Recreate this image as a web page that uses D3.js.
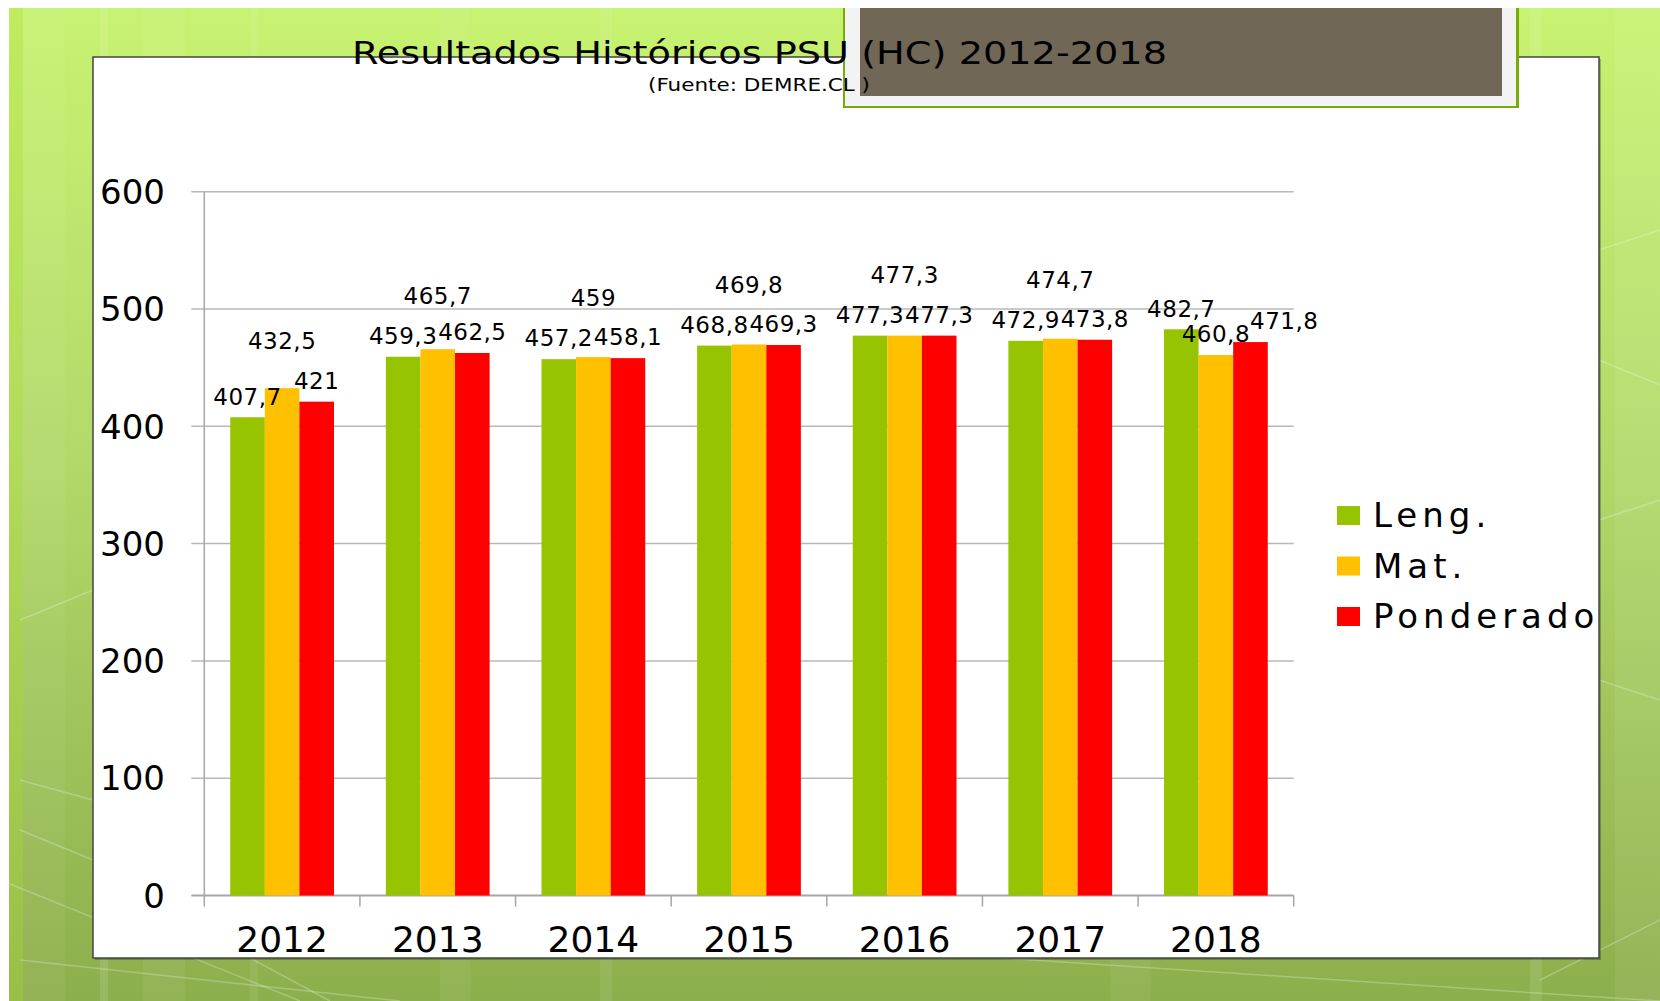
<!DOCTYPE html>
<html>
<head>
<meta charset="utf-8">
<script src="https://cdn.jsdelivr.net/npm/d3@7"></script>
<style>
	body { margin: 0; background: #fff; }
	svg { display: block; }
	text { font-family: "DejaVu Sans", sans-serif; fill: #000; }
</style>
</head>
<body>
<div class="box"></div>
<script>
var years = ['2012', '2013', '2014', '2015', '2016', '2017', '2018'];
var series = ['Leng.', 'Mat.', 'Ponderado'];
var leng = [407.7, 459.3, 457.2, 468.8, 477.3, 472.9, 482.7];
var mat = [432.5, 465.7, 459, 469.8, 477.3, 474.7, 460.8];
var ponderado = [421, 462.5, 458.1, 469.3, 477.3, 473.8, 471.8];
var yTicks = [0, 100, 200, 300, 400, 500, 600];
var colors = ['#97c400', '#ffc000', '#ff0000'];

var title = 'Resultados Históricos PSU (HC) 2012-2018';
var subtitle = '(Fuente: DEMRE.CL )';

var width = 1660, height = 1001;

var svg = d3.select('.box')
	.append('svg')
	.attr('width', width)
	.attr('height', height);

// slide background
var defs = svg.append('defs');
var grad = defs.append('linearGradient')
	.attr('id', 'bg')
	.attr('x1', 0).attr('y1', 0).attr('x2', 0).attr('y2', 1);
grad.append('stop').attr('offset', '0%').attr('stop-color', '#c8f271');
grad.append('stop').attr('offset', '45%').attr('stop-color', '#b3d96a');
grad.append('stop').attr('offset', '100%').attr('stop-color', '#8dae4c');

defs.append('clipPath')
	.attr('id', 'panelClip')
	.append('rect')
		.attr('x', 93).attr('y', 0)
		.attr('width', 1506).attr('height', 958);

svg.append('rect')
	.attr('x', 9).attr('y', 8)
	.attr('width', width - 9).attr('height', height - 8)
	.attr('fill', 'url(#bg)');

var stripes = [[9, 14, 0.35, '#b0e040'], [23, 42, 0.05], [100, 8, 0.12], [143, 42, 0.06],
	[250, 8, 0.08], [440, 30, 0.05], [600, 12, 0.08], [1110, 40, 0.05], [1530, 12, 0.1], [1615, 45, 0.07]];
svg.selectAll('rect.stripe')
	.data(stripes)
	.enter()
	.append('rect')
		.attr('class', 'stripe')
		.attr('x', function(d) { return d[0]; })
		.attr('y', 8)
		.attr('width', function(d) { return d[1]; })
		.attr('height', height - 8)
		.attr('fill', function(d) { return d[3] || '#fff'; })
		.attr('fill-opacity', function(d) { return d[2]; });

var streaks = [[0, 880, 300, 1001], [20, 960, 400, 1001], [250, 958, 330, 1001], [1000, 958, 1660, 1001],
	[1540, 980, 1660, 920], [1599, 250, 1660, 230], [1599, 360, 1660, 385], [1599, 520, 1660, 500],
	[20, 620, 93, 590], [20, 780, 93, 800], [20, 830, 93, 860], [1599, 680, 1660, 700]];
svg.selectAll('line.streak')
	.data(streaks)
	.enter()
	.append('line')
		.attr('x1', function(d) { return d[0]; })
		.attr('y1', function(d) { return d[1]; })
		.attr('x2', function(d) { return d[2]; })
		.attr('y2', function(d) { return d[3]; })
		.attr('stroke', '#fff')
		.attr('stroke-opacity', 0.25)
		.attr('stroke-width', 1.5);

// white chart panel
svg.append('rect')
	.attr('x', 95).attr('y', 59)
	.attr('width', 1506).attr('height', 901)
	.attr('fill', '#000')
	.attr('fill-opacity', 0.25);
svg.append('rect')
	.attr('x', 93).attr('y', 57)
	.attr('width', 1506).attr('height', 901)
	.attr('fill', '#fff')
	.attr('stroke', '#444')
	.attr('stroke-width', 1.5);

// picture frame placeholder at the top
svg.append('rect')
	.attr('x', 843).attr('y', 8)
	.attr('width', 676).attr('height', 100)
	.attr('fill', '#78aa08');
svg.append('rect')
	.attr('x', 845).attr('y', 8)
	.attr('width', 671).attr('height', 98)
	.attr('fill', '#f3f3f3');
svg.append('rect')
	.attr('x', 860).attr('y', 8)
	.attr('width', 642).attr('height', 88)
	.attr('fill', '#716757');

// titles
svg.append('text')
	.attr('x', 352).attr('y', 64)
	.attr('textLength', 815)
	.attr('lengthAdjust', 'spacingAndGlyphs')
	.style('font-size', '32px')
	.text(title);

svg.append('text')
	.attr('x', 648).attr('y', 91)
	.attr('textLength', 222)
	.attr('lengthAdjust', 'spacingAndGlyphs')
	.style('font-size', '17px')
	.text(subtitle);

// plot
var plotLeft = 204.3, plotRight = 1293.7, plotTop = 191.7, plotBottom = 895.5;

var x0 = d3.scaleBand()
	.domain(years)
	.range([plotLeft, plotRight])
	.paddingInner(1 / 3)
	.paddingOuter(1 / 6);

var x1 = d3.scaleBand()
	.domain(series)
	.range([0, x0.bandwidth()]);

var y = d3.scaleLinear()
	.domain([0, 600])
	.range([plotBottom, plotTop]);

var g = svg.append('g').attr('clip-path', 'url(#panelClip)');

g.selectAll('line.grid')
	.data(yTicks)
	.enter()
	.append('line')
		.attr('class', 'grid')
		.attr('x1', plotLeft - 13)
		.attr('x2', plotRight)
		.attr('y1', function(d) { return y(d); })
		.attr('y2', function(d) { return y(d); })
		.attr('stroke', function(d) { return d === 0 ? '#a6a6a6' : '#b8b8b8'; })
		.attr('stroke-width', function(d) { return d === 0 ? 2 : 1.5; });

g.append('line')
	.attr('x1', plotLeft).attr('x2', plotLeft)
	.attr('y1', plotTop).attr('y2', plotBottom)
	.attr('stroke', '#a6a6a6')
	.attr('stroke-width', 1.5);

var step = x0.step();
g.selectAll('line.xtick')
	.data(d3.range(years.length + 1))
	.enter()
	.append('line')
		.attr('class', 'xtick')
		.attr('x1', function(i) { return plotLeft + i * step; })
		.attr('x2', function(i) { return plotLeft + i * step; })
		.attr('y1', plotBottom)
		.attr('y2', plotBottom + 11)
		.attr('stroke', '#a6a6a6')
		.attr('stroke-width', 1.5);

g.selectAll('text.ytick')
	.data(yTicks)
	.enter()
	.append('text')
		.attr('class', 'ytick')
		.attr('x', 165)
		.attr('y', function(d) { return y(d); })
		.attr('dy', '0.36em')
		.attr('text-anchor', 'end')
		.style('font-size', '34px')
		.text(function(d) { return d; });

g.selectAll('text.xtick')
	.data(years)
	.enter()
	.append('text')
		.attr('class', 'xtick')
		.attr('x', function(d) { return x0(d) + x0.bandwidth() / 2; })
		.attr('y', 952)
		.attr('text-anchor', 'middle')
		.style('font-size', '36px')
		.text(function(d) { return d; });

var values = [leng, mat, ponderado];
var bars = [];
years.forEach(function(yr, i) {
	series.forEach(function(s, k) {
		bars.push({ year: yr, i: i, k: k, value: values[k][i] });
	});
});

g.selectAll('rect.bar')
	.data(bars)
	.enter()
	.append('rect')
		.attr('class', 'bar')
		.attr('x', function(d) { return x0(d.year) + x1(series[d.k]); })
		.attr('width', x1.bandwidth())
		.attr('y', function(d) { return y(d.value); })
		.attr('height', function(d) { return plotBottom - y(d.value); })
		.attr('fill', function(d) { return colors[d.k]; });

// data labels, nudged apart when they collide
var labelSize = 23, labelH = 23, lift = 40;
var labels = g.selectAll('text.label')
	.data(bars)
	.enter()
	.append('text')
		.attr('class', 'label')
		.attr('text-anchor', 'middle')
		.style('font-size', labelSize + 'px')
		.style('letter-spacing', '0.5px')
		.text(function(d) { return String(d.value).replace('.', ','); })
		.each(function(d) {
			d.w = this.getComputedTextLength();
			d.cx = x0(d.year) + x1(series[d.k]) + x1.bandwidth() / 2;
			d.cy = y(d.value) - 21;
		});

function overlaps(a, b) {
	return Math.abs(a.cx - b.cx) < (a.w + b.w) / 2 && Math.abs(a.cy - b.cy) < labelH;
}

years.forEach(function(yr, i) {
	var grp = bars.filter(function(d) { return d.i === i; });
	[[0, 1], [1, 2]].forEach(function(p) {
		var a = grp[p[0]], b = grp[p[1]];
		if (!overlaps(a, b)) return;
		var mover, other;
		if (a.value === b.value) { mover = a.k === 1 ? a : b; }
		else { mover = a.value > b.value ? a : b; }
		other = mover === a ? b : a;
		if (mover.k === 1) {
			mover.cy = other.cy - lift;
		} else {
			var dir = mover.k === 2 ? 1 : -1;
			mover.cx = other.cx + dir * (other.w + mover.w) / 2;
		}
	});
});

labels
	.attr('x', function(d) { return d.cx; })
	.attr('y', function(d) { return d.cy + labelSize * 0.36; });

// legend
var legend = g.selectAll('g.legend')
	.data(series)
	.enter()
	.append('g')
		.attr('class', 'legend')
		.attr('transform', function(d, i) { return 'translate(1337,' + (506 + i * 50.5) + ')'; });

legend.append('rect')
	.attr('width', 23)
	.attr('height', 19)
	.attr('fill', function(d, i) { return colors[i]; });

legend.append('text')
	.attr('x', 36)
	.attr('y', 21)
	.style('font-size', '34px')
	.style('letter-spacing', '5px')
	.text(function(d) { return d; });
</script>
</body>
</html>
